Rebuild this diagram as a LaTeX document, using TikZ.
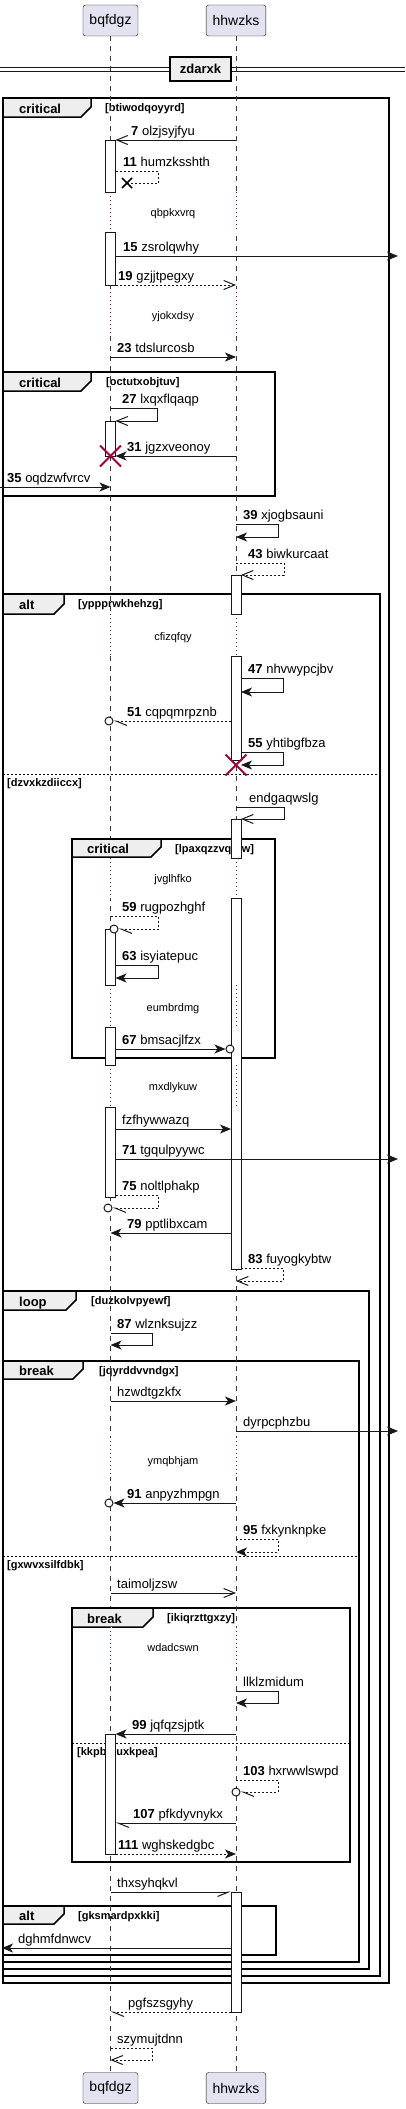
\documentclass[tikz,border=0pt]{standalone}
\usepackage{fontspec}
\setmainfont{Liberation Sans}
\usetikzlibrary{arrows.meta}
\definecolor{lnc}{HTML}{181818}
\definecolor{partfill}{HTML}{E2E2F0}
\definecolor{tabfill}{HTML}{EEEEEE}
\definecolor{delayred}{HTML}{A80036}

\begin{document}
\begin{tikzpicture}[x=1pt,y=-1pt,
  part/.style={draw=lnc, fill=partfill, rounded corners=2.5pt, minimum height=31pt, inner xsep=6.5pt, font=\fontsize{14}{16}\selectfont},
  life/.style={draw=lnc!85, line width=0.6pt, dash pattern=on 5pt off 5pt},
  delay/.style={preaction={draw=white, line width=2pt}, draw=delayred, line width=0.9pt, dash pattern=on 1pt off 3pt},
  delaytxt/.style={font=\fontsize{11}{13}\selectfont, anchor=base, inner sep=0pt},
  bar/.style={draw=lnc, fill=white, line width=1pt},
  frame/.style={draw=black, line width=1.5pt},
  tab/.style={draw=black, fill=tabfill, line width=1.5pt},
  ftitle/.style={font=\bfseries\fontsize{13}{15}\selectfont, anchor=base west, inner sep=0pt},
  guard/.style={font=\bfseries\fontsize{11}{13}\selectfont, anchor=base west, inner sep=0pt},
  elseline/.style={draw=black, line width=0.8pt, dash pattern=on 2pt off 2pt},
  divbox/.style={draw=black, fill=tabfill, line width=1.5pt, minimum width=61pt, minimum height=24pt, inner sep=0pt, font=\bfseries\fontsize{13}{15}\selectfont},
  msg/.style={draw=lnc, line width=1pt},
  ret/.style={msg, dash pattern=on 2pt off 2pt},
  fullhead/.style={-{Stealth[length=11pt,width=9pt,inset=3pt]}},
  openhead/.style={-{Straight Barb[length=11pt,width=9pt]}},
  halfleft/.style={-{Straight Barb[length=11pt,width=9pt,left]}},
  halfright/.style={-{Straight Barb[length=11pt,width=9pt,right]}},
  lbl/.style={font=\fontsize{13}{15}\selectfont, anchor=base west, inner sep=0pt},
  endcirc/.style={circle, draw=lnc, fill=white, line width=1pt, minimum size=8pt, inner sep=0pt},
  xmark/.style={draw=black, line width=1.5pt},
  kill/.style={draw=delayred, line width=2pt}]

\useasboundingbox (0,0) rectangle (405,2109);

% frames
\draw[frame] (3,98) rectangle (389,1983);
\node[guard] (g1) at (105,111.5) {[btiwodqoyyrd]};
\draw[frame] (3,372) rectangle (275,496);
\node[guard] (g2) at (106,385.5) {[octutxobjtuv]};
\draw[frame] (3,594) rectangle (380,1976);
\node[guard] (g3) at (78,607.5) {[yppprwkhehzg]};
\draw[elseline] (3,774) -- (380,774);
\node[guard] (g3b) at (7,786) {[dzvxkzdiiccx]};
\draw[frame] (72,839) rectangle (275,1058);
\node[guard] (g4) at (175,852.5) {[lpaxqzzvqcrw]};
\draw[frame] (3,1291) rectangle (369,1969);
\node[guard] (g5) at (91,1304.5) {[duzkolvpyewf]};
\draw[frame] (3,1361) rectangle (359,1962);
\node[guard] (g6) at (99,1374.5) {[jqyrddvvndgx]};
\draw[elseline] (3,1556) -- (359,1556);
\node[guard] (g6b) at (7,1568) {[gxwvxsilfdbk]};
\draw[frame] (72,1608) rectangle (350,1862);
\node[guard] (g7) at (167,1621.5) {[ikiqrzttgxzy]};
\draw[elseline] (72,1743) -- (350,1743);
\node[guard] (g7b) at (77,1755) {[kkpbniuxkpea]};
\draw[frame] (3,1906) rectangle (276,1955);
\node[guard] (g8) at (78,1919.5) {[gksmardpxkki]};

% divider
\draw[lnc, line width=1pt] (0,68) -- (405,68) (0,72) -- (405,72);
\node[divbox] (dv) at (200.5,69) {zdarxk};

% participants and lifelines
\node[part] (pa) at (110.5,20.5) {bqfdgz};
\node[part] (pb) at (236,20.5) {hhwzks};
\node[part] (pa2) at (110.5,2088) {bqfdgz};
\node[part] (pb2) at (236,2088) {hhwzks};
\draw[life] (pa) -- (pa2);
\draw[life] (pb) -- (pb2);

% tabs
\draw[tab] (3,98) -- (91,98) -- (91,107) -- (81,117) -- (3,117) -- cycle;
\node[ftitle] (t1) at (19,113) {critical};
\draw[tab] (3,372) -- (91,372) -- (91,381) -- (81,391) -- (3,391) -- cycle;
\node[ftitle] (t2) at (19,387) {critical};
\draw[tab] (3,594) -- (64,594) -- (64,604) -- (54,614) -- (3,614) -- cycle;
\node[ftitle] (t3) at (19,609) {alt};
\draw[tab] (72,839) -- (161,839) -- (161,847) -- (151,857) -- (72,857) -- cycle;
\node[ftitle] (t4) at (87,853.5) {critical};
\draw[tab] (3,1291) -- (76,1291) -- (76,1300) -- (66,1310) -- (3,1310) -- cycle;
\node[ftitle] (t5) at (19,1306) {loop};
\draw[tab] (3,1361) -- (83,1361) -- (83,1369) -- (73,1379) -- (3,1379) -- cycle;
\node[ftitle] (t6) at (19,1375.5) {break};
\draw[tab] (72,1608) -- (153,1608) -- (153,1617) -- (143,1627) -- (72,1627) -- cycle;
\node[ftitle] (t7) at (87,1623) {break};
\draw[tab] (3,1906) -- (64,1906) -- (64,1914) -- (54,1924) -- (3,1924) -- cycle;
\node[ftitle] (t8) at (19,1920.5) {alt};

% delays
\draw[delay] (110.5,192) -- (110.5,232) (236,192) -- (236,232);
\node[delaytxt] (d1) at (173,216) {qbpkxvrq};
\draw[delay] (110.5,288) -- (110.5,337) (236,288) -- (236,337);
\node[delaytxt] (d2) at (173,319) {yjokxdsy};
\draw[delay] (110.5,614) -- (110.5,656) (236,614) -- (236,656);
\node[delaytxt] (d3) at (173,640) {cfizqfqy};
\draw[delay] (110.5,858) -- (110.5,898) (236,858) -- (236,898);
\node[delaytxt] (d4) at (173,882) {jvglhfko};
\draw[delay] (110.5,985) -- (110.5,1027);
\node[delaytxt] (d5) at (173,1011) {eumbrdmg};
\draw[delay] (110.5,1065) -- (110.5,1107);
\node[delaytxt] (d6) at (173,1090) {mxdlykuw};
\draw[delay] (110.5,1437) -- (110.5,1477) (236,1437) -- (236,1477);
\node[delaytxt] (d7) at (173,1464) {ymqbhjam};
\draw[delay] (110.5,1627) -- (110.5,1667) (236,1627) -- (236,1667);
\node[delaytxt] (d8) at (173,1651) {wdadcswn};

% activations
\draw[bar] (105.5,140) rectangle (115.5,192);
\draw[bar] (105.5,232) rectangle (115.5,285);
\draw[bar] (105.5,421) rectangle (115.5,456);
\draw[bar] (105.5,929) rectangle (115.5,985);
\draw[bar] (105.5,1027) rectangle (115.5,1065);
\draw[bar] (105.5,1107) rectangle (115.5,1197);
\draw[bar] (105.5,1734) rectangle (115.5,1854);
\draw[bar] (231,575) rectangle (241,614);
\draw[bar] (231,656) rectangle (241,760);
\draw[bar] (231,819) rectangle (241,858);
\draw[bar] (231,898) rectangle (241,1269);
\draw[bar] (231,1892) rectangle (241,2012);
\draw[delay, preaction={draw=none}] (236,985) -- (236,1027) (236,1065) -- (236,1107);

% messages
\coordinate (m7s) at (236,140); \coordinate (m7e) at (115.5,140);
\draw[msg,openhead] (m7s) -- (m7e);
\node[lbl] (l7) at (131,135) {\textbf{7} olzjsyjfyu};

\coordinate (m11s) at (115.5,171); \coordinate (m11e) at (127,183);
\draw[ret] (m11s) -- ++(42.5,0) |- (m11e);
\draw[xmark] (m11e) ++(-5,-5) -- ++(10,10) ++(0,-10) -- ++(-10,10);
\node[lbl] (l11) at (123,166) {\textbf{11} humzksshth};

\coordinate (m15s) at (115.5,256); \coordinate (m15e) at (398,256);
\draw[msg,fullhead] (m15s) -- (m15e);
\node[lbl] (l15) at (123,251) {\textbf{15} zsrolqwhy};

\coordinate (m19s) at (115.5,285); \coordinate (m19e) at (236,285);
\draw[ret,openhead] (m19s) -- (m19e);
\node[lbl] (l19) at (118,280) {\textbf{19} gzjjtpegxy};

\coordinate (m23s) at (110.5,357); \coordinate (m23e) at (236,357);
\draw[msg,fullhead] (m23s) -- (m23e);
\node[lbl] (l23) at (117,352) {\textbf{23} tdslurcosb};

\coordinate (m27s) at (110.5,408); \coordinate (m27e) at (115.5,421);
\draw[msg,openhead] (m27s) -- ++(46.5,0) |- (m27e);
\node[lbl] (l27) at (122,403) {\textbf{27} lxqxflqaqp};

\coordinate (m31s) at (236,456); \coordinate (m31e) at (115.5,456);
\draw[msg,fullhead] (m31s) -- (m31e);
\node[lbl] (l31) at (127,451) {\textbf{31} jgzxveonoy};
\coordinate (k31) at (110.5,456);
\draw[kill] (k31) ++(-10.5,-10.5) -- ++(21,21) ++(0,-21) -- ++(-21,21);

\coordinate (m35s) at (0,487); \coordinate (m35e) at (110.5,487);
\draw[msg,fullhead] (m35s) -- (m35e);
\node[lbl] (l35) at (7,482) {\textbf{35} oqdzwfvrcv};

\coordinate (m39s) at (236,524); \coordinate (m39e) at (236,537);
\draw[msg,fullhead] (m39s) -- ++(42,0) |- (m39e);
\node[lbl] (l39) at (243,519) {\textbf{39} xjogbsauni};

\coordinate (m43s) at (236,563); \coordinate (m43e) at (241,575);
\draw[ret,openhead] (m43s) -- ++(48,0) |- (m43e);
\node[lbl] (l43) at (248,558) {\textbf{43} biwkurcaat};

\coordinate (m47s) at (241,678); \coordinate (m47e) at (241,692);
\draw[msg,fullhead] (m47s) -- ++(42,0) |- (m47e);
\node[lbl] (l47) at (248,673) {\textbf{47} nhvwypcjbv};

\coordinate (m51s) at (231,721);
\node[endcirc] (c51) at (109,721) {};
\draw[ret,halfleft] (m51s) -- (c51.east);
\node[lbl] (l51) at (127,716) {\textbf{51} cqpqmrpznb};

\coordinate (m55s) at (241,752); \coordinate (m55e) at (241,765);
\draw[msg,fullhead] (m55s) -- ++(42,0) |- (m55e);
\node[lbl] (l55) at (248,747) {\textbf{55} yhtibgfbza};
\coordinate (k55) at (236,765);
\draw[kill] (k55) ++(-10.5,-10.5) -- ++(21,21) ++(0,-21) -- ++(-21,21);

\coordinate (m56s) at (236,807); \coordinate (m56e) at (241,819);
\draw[msg,openhead] (m56s) -- ++(48,0) |- (m56e);
\node[lbl] (l56) at (249,802) {endgaqwslg};

\coordinate (m59s) at (110.5,916);
\node[endcirc] (c59) at (114,929) {};
\draw[ret,halfleft] (m59s) -- ++(47.5,0) |- (c59.east);
\node[lbl] (l59) at (122,911) {\textbf{59} rugpozhghf};

\coordinate (m63s) at (115.5,965); \coordinate (m63e) at (115.5,978);
\draw[msg,fullhead] (m63s) -- ++(42.5,0) |- (m63e);
\node[lbl] (l63) at (122,960) {\textbf{63} isyiatepuc};

\coordinate (m67s) at (115.5,1049);
\node[endcirc] (c67) at (230,1049) {};
\draw[msg,fullhead] (m67s) -- (c67.west);
\node[lbl] (l67) at (122,1044) {\textbf{67} bmsacjlfzx};

\coordinate (m68s) at (115.5,1129); \coordinate (m68e) at (231,1129);
\draw[msg,fullhead] (m68s) -- (m68e);
\node[lbl] (l68) at (122,1124) {fzfhywwazq};

\coordinate (m71s) at (115.5,1159); \coordinate (m71e) at (398,1159);
\draw[msg,fullhead] (m71s) -- (m71e);
\node[lbl] (l71) at (122,1154) {\textbf{71} tgqulpyywc};

\coordinate (m75s) at (115.5,1195);
\node[endcirc] (c75) at (108,1208) {};
\draw[ret,halfleft] (m75s) -- ++(42.5,0) |- (c75.east);
\node[lbl] (l75) at (122,1190) {\textbf{75} noltlphakp};

\coordinate (m79s) at (231,1233); \coordinate (m79e) at (110.5,1233);
\draw[msg,fullhead] (m79s) -- (m79e);
\node[lbl] (l79) at (127,1228) {\textbf{79} pptlibxcam};

\coordinate (m83s) at (241,1268); \coordinate (m83e) at (236,1281);
\draw[ret,openhead] (m83s) -- ++(42,0) |- (m83e);
\node[lbl] (l83) at (248,1263) {\textbf{83} fuyogkybtw};

\coordinate (m87s) at (110.5,1333); \coordinate (m87e) at (110.5,1345);
\draw[msg,fullhead] (m87s) -- ++(41.5,0) |- (m87e);
\node[lbl] (l87) at (117,1328) {\textbf{87} wlznksujzz};

\coordinate (m88s) at (110.5,1401); \coordinate (m88e) at (236,1401);
\draw[msg,fullhead] (m88s) -- (m88e);
\node[lbl] (l88) at (117,1396) {hzwdtgzkfx};

\coordinate (m89s) at (236,1431); \coordinate (m89e) at (398,1431);
\draw[msg,fullhead] (m89s) -- (m89e);
\node[lbl] (l89) at (243,1426) {dyrpcphzbu};

\coordinate (m91s) at (236,1503);
\node[endcirc] (c91) at (109,1503) {};
\draw[msg,fullhead] (m91s) -- (c91.east);
\node[lbl] (l91) at (127,1498) {\textbf{91} anpyzhmpgn};

\coordinate (m95s) at (236,1539); \coordinate (m95e) at (236,1552);
\draw[ret,fullhead] (m95s) -- ++(42,0) |- (m95e);
\node[lbl] (l95) at (243,1534) {\textbf{95} fxkynknpke};

\coordinate (m96s) at (110.5,1593); \coordinate (m96e) at (236,1593);
\draw[msg,openhead] (m96s) -- (m96e);
\node[lbl] (l96) at (117,1588) {taimoljzsw};

\coordinate (m97s) at (236,1691); \coordinate (m97e) at (236,1703);
\draw[msg,fullhead] (m97s) -- ++(42,0) |- (m97e);
\node[lbl] (l97) at (243,1686) {llklzmidum};

\coordinate (m99s) at (236,1734); \coordinate (m99e) at (115.5,1734);
\draw[msg,fullhead] (m99s) -- (m99e);
\node[lbl] (l99) at (132,1729) {\textbf{99} jqfqzsjptk};

\coordinate (m103s) at (236,1780);
\node[endcirc] (c103) at (236,1792) {};
\draw[ret,halfleft] (m103s) -- ++(42,0) |- (c103.east);
\node[lbl] (l103) at (243,1775) {\textbf{103} hxrwwlswpd};

\coordinate (m107s) at (236,1823); \coordinate (m107e) at (115.5,1823);
\draw[msg,halfleft] (m107s) -- (m107e);
\node[lbl] (l107) at (133,1818) {\textbf{107} pfkdyvnykx};

\coordinate (m111s) at (115.5,1854); \coordinate (m111e) at (236,1854);
\draw[ret,fullhead] (m111s) -- (m111e);
\node[lbl] (l111) at (118,1849) {\textbf{111} wghskedgbc};

\coordinate (m112s) at (110.5,1892); \coordinate (m112e) at (231,1892);
\draw[msg,halfright] (m112s) -- (m112e);
\node[lbl] (l112) at (117,1887) {thxsyhqkvl};

\coordinate (m113s) at (231,1948); \coordinate (m113e) at (2,1948);
\draw[msg,fullhead] (m113s) -- (m113e);
\node[lbl] (l113) at (18,1943) {dghmfdnwcv};

\coordinate (m114s) at (231,2012); \coordinate (m114e) at (110.5,2012);
\draw[ret,halfleft] (m114s) -- (m114e);
\node[lbl] (l114) at (128,2007) {pgfszsgyhy};

\coordinate (m115s) at (110.5,2048); \coordinate (m115e) at (110.5,2060);
\draw[ret,openhead] (m115s) -- ++(41.5,0) |- (m115e);
\node[lbl] (l115) at (117,2043) {szymujtdnn};

\end{tikzpicture}
\end{document}
